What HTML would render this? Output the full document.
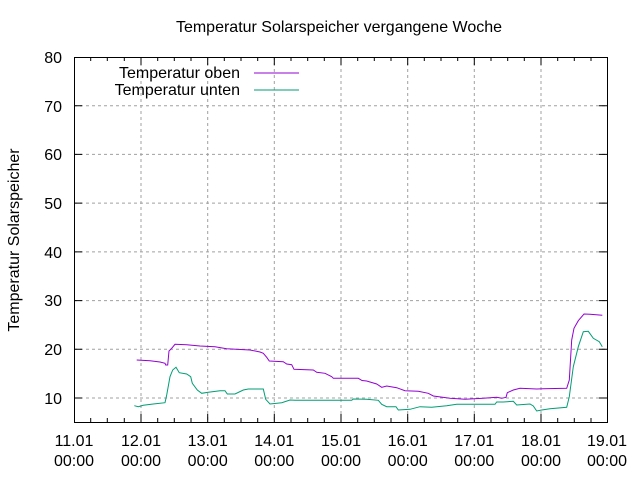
<!DOCTYPE html>
<html><head><style>body{margin:0;background:#fff}svg{display:block}text{font-family:"Liberation Sans",sans-serif;fill:#000}</style></head><body>
<svg width="640" height="480" viewBox="0 0 640 480" xmlns="http://www.w3.org/2000/svg">
<g stroke="#a0a0a0" stroke-dasharray="3,3" stroke-width="1">
<line x1="141" y1="57" x2="141" y2="422"/><line x1="207.7" y1="57" x2="207.7" y2="422"/><line x1="274.3" y1="57" x2="274.3" y2="422"/><line x1="341" y1="57" x2="341" y2="422"/><line x1="407.7" y1="57" x2="407.7" y2="422"/><line x1="474.3" y1="57" x2="474.3" y2="422"/><line x1="541" y1="57" x2="541" y2="422"/>
<line x1="74" y1="398" x2="607" y2="398"/><line x1="74" y1="349.3" x2="607" y2="349.3"/><line x1="74" y1="300.6" x2="607" y2="300.6"/><line x1="74" y1="251.9" x2="607" y2="251.9"/><line x1="74" y1="203.1" x2="607" y2="203.1"/><line x1="74" y1="154.4" x2="607" y2="154.4"/><line x1="74" y1="105.7" x2="607" y2="105.7"/>
</g>
<rect x="74.5" y="57.5" width="533" height="365" fill="none" stroke="#000"/>
<g font-size="16" text-anchor="end">
<text x="62" y="404">10</text><text x="62" y="355">20</text><text x="62" y="306">30</text><text x="62" y="258">40</text><text x="62" y="209">50</text><text x="62" y="160">60</text><text x="62" y="112">70</text><text x="62" y="63">80</text>
</g>
<g font-size="16" text-anchor="middle">
<text x="74" y="446">11.01</text><text x="74" y="466">00:00</text>
<text x="141" y="446">12.01</text><text x="141" y="466">00:00</text>
<text x="207.7" y="446">13.01</text><text x="207.7" y="466">00:00</text>
<text x="274.3" y="446">14.01</text><text x="274.3" y="466">00:00</text>
<text x="341" y="446">15.01</text><text x="341" y="466">00:00</text>
<text x="407.7" y="446">16.01</text><text x="407.7" y="466">00:00</text>
<text x="474.3" y="446">17.01</text><text x="474.3" y="466">00:00</text>
<text x="541" y="446">18.01</text><text x="541" y="466">00:00</text>
<text x="607" y="446">19.01</text><text x="607" y="466">00:00</text>
</g>
<text x="339" y="32" font-size="16" text-anchor="middle">Temperatur Solarspeicher vergangene Woche</text>
<text transform="translate(19,240) rotate(-90)" font-size="16" text-anchor="middle">Temperatur Solarspeicher</text>
<text x="240" y="78" font-size="16" text-anchor="end">Temperatur oben</text>
<text x="240" y="95" font-size="16" text-anchor="end">Temperatur unten</text>
<line x1="254" y1="73" x2="299" y2="73" stroke="#9400d3"/>
<line x1="254" y1="90" x2="299" y2="90" stroke="#009e73"/>
<polyline fill="none" stroke="#9400d3" stroke-width="1" points="136.7,360 150,360.7 160,362 165,363.3 165.7,365 167.7,365 169,351 171.7,348.3 175,344.3 186.7,344.7 200,346 215,346.7 226.7,348.7 250,350 260,352 263.3,353.3 266.7,357.3 269.3,361 283.3,361.7 286.7,364 291.7,364.7 294,369.3 313.3,370 316.7,372.3 325,373.3 331.7,376.7 333.3,378.3 358.3,378.3 362,380.5 366.7,381 376.7,384 381.7,387.3 386.7,386 396.7,387.7 405,390.7 418.3,391.3 428.3,393.3 433.3,396 450,398.3 465,399.3 483.3,398.3 496.7,397.3 501.7,398.3 506,397.3 507.3,392.7 513.3,390 520,388.3 536.7,389 543.3,388.7 566.7,388.3 569.3,380 571.7,340 574,328.3 578.3,320.7 584,314 590,314.3 602.3,315.3"/>
<polyline fill="none" stroke="#009e73" stroke-width="1" points="134.3,405.7 138.3,406.7 143.3,405.3 153.3,404 165,402.7 166.7,395 170,376.7 172.7,370 176,367.3 179.3,372.7 186.7,374 190.7,376.7 192.3,383.3 197.3,390 201.7,393.3 208.3,392.3 220,390.7 225,390.7 227.3,394 235,394 243.3,390 248.3,389 263.3,389 265.7,399.3 270,404 281.7,402.7 290,400 295,400.3 351.7,400.3 353.3,399 366.7,399.3 378.3,400.3 381.7,404.3 386.7,406.7 396,406.7 398.3,410 410,409.3 420,406.7 431.7,407.3 446.7,405.7 456.7,404.3 495,404.3 496.7,402 503.3,402 513.3,401.3 516.7,405 530,404 533.3,406 536.7,411 541.7,410 550,408.7 566.7,407.3 569.3,396.7 573.3,366.7 578.3,346.7 583.3,331.7 588.3,331.3 593.3,338.3 599.3,341.7 602.3,346.7"/>
<g stroke="#000">
<path d="M74,398h8M74,349.3h8M74,300.6h8M74,251.9h8M74,203.1h8M74,154.4h8M74,105.7h8M607,398h-8M607,349.3h-8M607,300.6h-8M607,251.9h-8M607,203.1h-8M607,154.4h-8M607,105.7h-8"/>
<path d="M141,422v-8M207.7,422v-8M274.3,422v-8M341,422v-8M407.7,422v-8M474.3,422v-8M541,422v-8M141,57v8M207.7,57v8M274.3,57v8M341,57v8M407.7,57v8M474.3,57v8M541,57v8"/>
<path d="M90.7,422v-4M107.3,422v-4M124.3,422v-4M157.7,422v-4M174.3,422v-4M191,422v-4M224.3,422v-4M241,422v-4M257.7,422v-4M291,422v-4M307.7,422v-4M324.3,422v-4M357.7,422v-4M374.3,422v-4M391,422v-4M424.3,422v-4M441,422v-4M457.7,422v-4M491,422v-4M507.7,422v-4M524.3,422v-4M557.7,422v-4M574.3,422v-4M591,422v-4"/>
<path d="M90.7,57v4M107.3,57v4M124.3,57v4M157.7,57v4M174.3,57v4M191,57v4M224.3,57v4M241,57v4M257.7,57v4M291,57v4M307.7,57v4M324.3,57v4M357.7,57v4M374.3,57v4M391,57v4M424.3,57v4M441,57v4M457.7,57v4M491,57v4M507.7,57v4M524.3,57v4M557.7,57v4M574.3,57v4M591,57v4"/>
</g>
</svg>
</body></html>
